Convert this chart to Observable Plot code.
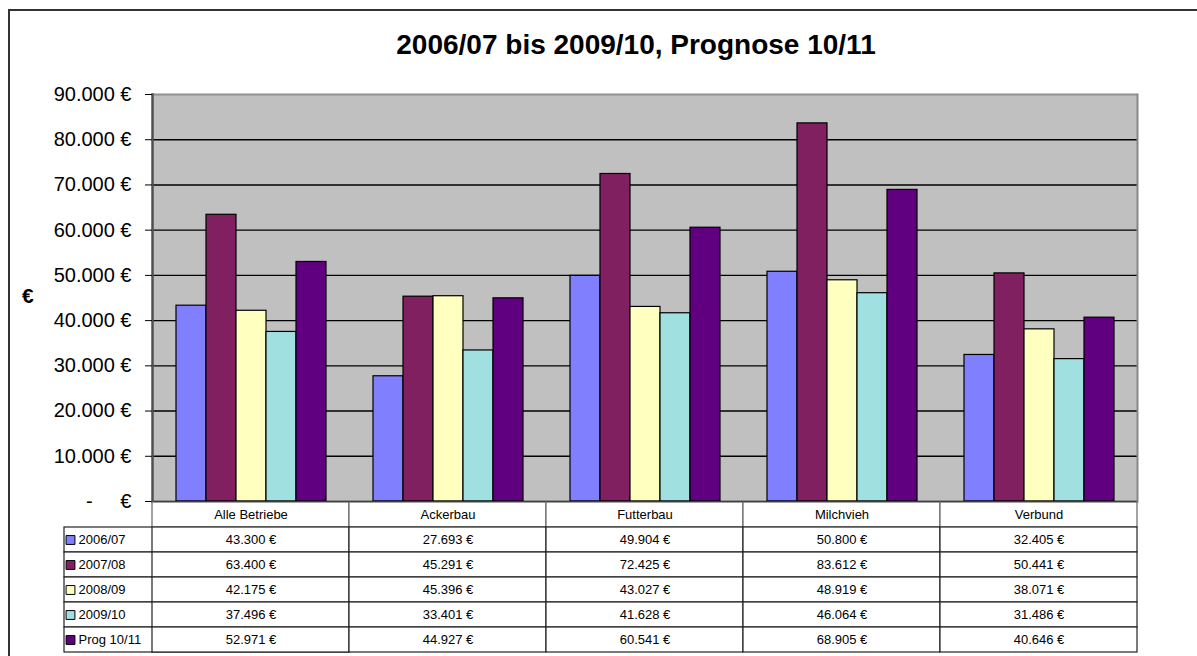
<!DOCTYPE html>
<html>
<head>
<meta charset="utf-8">
<script src="https://cdn.jsdelivr.net/npm/d3@7"></script>
<script src="https://cdn.jsdelivr.net/npm/@observablehq/plot@0.6"></script>
<style>
  html, body { margin: 0; padding: 0; background: #fff; overflow: hidden; }
  #wrap { position: relative; width: 1197px; height: 656px; overflow: hidden; font-family: "Liberation Sans", Arial, sans-serif; }
  #border { position: absolute; left: 8px; top: 9px; width: 1400px; height: 800px; border-top: 2px solid #333; border-left: 2px solid #333; box-sizing: border-box; }
  #title { position: absolute; left: 0; width: 1272px; top: 29px; text-align: center; font-weight: bold; font-size: 28px; color: #000; }
  #ylab { position: absolute; left: 22px; top: 284px; font-weight: bold; font-size: 21px; }
  #chart { position: absolute; left: 0; top: 0; }
  #table { position: absolute; left: 0; top: 501px; }
</style>
</head>
<body>
<div id="wrap">
  <div id="border"></div>
  <div id="title">2006/07 bis 2009/10, Prognose 10/11</div>
  <div id="ylab">€</div>
  <div id="chart"></div>
  <div id="table"></div>
</div>
<script>
// ---- data ----
const categories = ["Alle Betriebe", "Ackerbau", "Futterbau", "Milchvieh", "Verbund"];
const seriesNames = ["2006/07", "2007/08", "2008/09", "2009/10", "Prog 10/11"];
const v2006_07 = [43300, 27693, 49904, 50800, 32405];
const v2007_08 = [63400, 45291, 72425, 83612, 50441];
const v2008_09 = [42175, 45396, 43027, 48919, 38071];
const v2009_10 = [37496, 33401, 41628, 46064, 31486];
const vProg10_11 = [52971, 44927, 60541, 68905, 40646];
const seriesColors = ["#8080FF", "#802060", "#FFFFC0", "#A0E0E0", "#600080"];
const yTicks = [0, 10000, 20000, 30000, 40000, 50000, 60000, 70000, 80000, 90000];

const seriesValues = [v2006_07, v2007_08, v2008_09, v2009_10, vProg10_11];
const rows = [];
seriesNames.forEach((s, j) => categories.forEach((c, i) => rows.push({cat: c, series: s, value: seriesValues[j][i]})));

const thousands = d => d3.format(",")(d).replace(/,/g, ".");
const euro = d => d === 0 ? "-\u00a0\u00a0\u00a0\u00a0\u00a0€" : thousands(d) + " €";
const color = {domain: seriesNames, range: seriesColors};

const W = 1197, ML = 150, MR = 58;

// ---- chart ----
const chart = Plot.plot({
  width: W, height: 505,
  marginLeft: ML, marginRight: MR, marginTop: 94, marginBottom: 4,
  style: {background: "transparent", fontFamily: "'Liberation Sans', Arial, sans-serif", overflow: "visible", color: "#000"},
  fx: {domain: categories, padding: 0, axis: null},
  x: {domain: seriesNames, paddingInner: 0, paddingOuter: 0.75, axis: null},
  y: {domain: [0, 90000]},
  color,
  marks: [
    Plot.frame({fill: "#C0C0C0", stroke: "#C0C0C0", strokeWidth: 1}),
    Plot.ruleY(yTicks.filter(t => t > 0 && t < 90000), {stroke: "#000", strokeWidth: 1.4}),
    Plot.ruleY([90000], {stroke: "#909090", strokeWidth: 2}),
    Plot.barY(rows, {fx: "cat", x: "series", y: "value", fill: "series", stroke: "#000", strokeWidth: 1.2}),
    Plot.ruleY([0], {stroke: "#000", strokeWidth: 1.5}),
    Plot.frame({anchor: "left", facetAnchor: "left", stroke: "#505050", strokeWidth: 2.5}),
    Plot.frame({anchor: "right", facetAnchor: "right", stroke: "#888", strokeWidth: 2}),
    Plot.axisY({ticks: yTicks, tickFormat: euro, tickSize: 7, tickPadding: 14, fontSize: 20, label: null, anchor: "left", stroke: "#000"})
  ]
});
document.getElementById("chart").appendChild(chart);

// ---- data table ----
const tableRows = ["head", ...seriesNames];
const table = Plot.plot({
  width: W, height: 155,
  marginLeft: ML, marginRight: MR, marginTop: 0, marginBottom: 3,
  style: {background: "transparent", fontFamily: "'Liberation Sans', Arial, sans-serif", overflow: "visible", color: "#000"},
  x: {domain: categories, padding: 0, axis: null},
  y: {domain: tableRows, padding: 0, axis: null},
  color,
  marks: [
    Plot.cell(seriesNames, {x: () => categories[0], y: d => d, insetLeft: -88, fill: "#fff", stroke: "#222", strokeWidth: 1.2}),
    Plot.cell(categories, {x: d => d, y: () => "head", fill: "#fff", stroke: "#666", strokeWidth: 1.2}),
    Plot.cell(rows, {x: "cat", y: "series", fill: "#fff", stroke: "#222", strokeWidth: 1.2}),
    Plot.text(categories, {x: d => d, y: () => "head", text: d => d, fontSize: 13, fill: "#000"}),
    Plot.text(rows, {x: "cat", y: "series", text: d => thousands(d.value) + " €", fontSize: 13, fill: "#000"}),
    Plot.dot(seriesNames, {y: d => d, frameAnchor: "left", dx: -80, symbol: "square", r: 5, fill: d => d, stroke: "#000", strokeWidth: 1}),
    Plot.text(seriesNames, {y: d => d, frameAnchor: "left", dx: -72, textAnchor: "start", text: d => d, fontSize: 13, fill: "#000"})
  ]
});
document.getElementById("table").appendChild(table);
</script>
</body>
</html>
